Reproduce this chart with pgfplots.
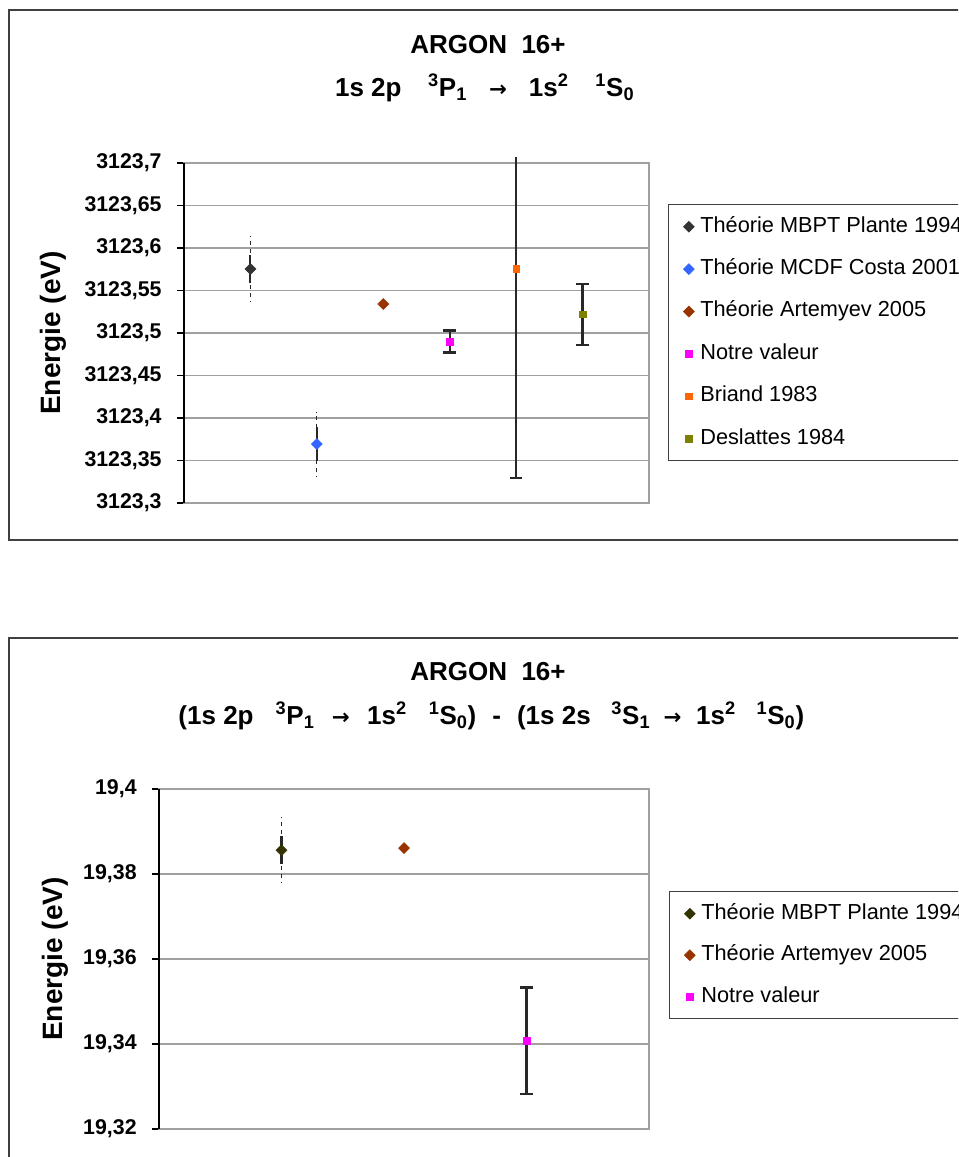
\documentclass[border=0pt]{standalone}
\usepackage{pgfplots}
\pgfplotsset{compat=1.18}
\usepackage{fontspec}
\setmainfont{Liberation Sans}
\newfontfamily\arrowfont{DejaVu Sans}
\definecolor{gridgray}{RGB}{160,160,160}
\definecolor{framec}{RGB}{64,64,64}
\definecolor{plante}{RGB}{51,51,51}
\definecolor{costa}{RGB}{51,102,255}
\definecolor{artemyev}{RGB}{153,51,0}
\definecolor{notre}{RGB}{255,0,255}
\definecolor{briand}{RGB}{255,102,0}
\definecolor{deslattes}{RGB}{128,128,0}
\definecolor{plantetwo}{RGB}{51,51,0}
\definecolor{errc}{RGB}{40,40,40}

\newcommand{\gap}[1]{\hspace*{#1}}
\newcommand{\arr}{{\arrowfont\bfseries\fontsize{16}{18}\selectfont →}}
\pgfplotsset{
  excel/.style={
    scale only axis,
    anchor=south west,
    clip=false,
    axis line style={gridgray, line width=1.1pt},
    ymajorgrids,
    grid style={gridgray, line width=1.1pt},
    xtick=\empty,
    ytick pos=left,
    tick align=outside,
    major tick length=5.25pt,
    every tick/.style={black, line width=1.1pt},
    yticklabel style={font=\bfseries\fontsize{16}{18}\selectfont, black, xshift=-8pt},
    ylabel={Energie (eV)},
    legend cell align=left,
    legend image code/.code={\draw[mark repeat=2,mark phase=2,##1] plot coordinates {(0pt,0pt)(5pt,0pt)(10pt,0pt)};},
    legend style={draw=framec, line width=1.1pt, fill=white, anchor=north west,
      font=\fontsize{16.3}{18}\selectfont, inner xsep=11pt, inner ysep=9.5pt,
      column sep=4.5pt,
      nodes={inner sep=0pt, text height=11pt, text depth=3pt, line width=0.4pt}},
  },
  diam/.style={only marks, mark=square*, mark size=2.9pt, mark options={rotate=45, fill=#1, draw=#1, line width=0.4pt}},
  sq/.style={only marks, mark=square*, mark size=2.45pt, mark options={fill=#1, draw=#1, line width=0.4pt}},
}

\begin{document}
\begin{tikzpicture}
\useasboundingbox (0pt,0pt) rectangle (718.5pt,-867.75pt);
\clip (0pt,0pt) rectangle (718.5pt,-867.75pt);
\fill[white] (0pt,0pt) rectangle (718.5pt,-867.75pt);

% ---------- top chart ----------
\draw[framec, line width=1.1pt] (6.75pt,-7.5pt) rectangle (740pt,-405pt);
\node[font=\bfseries\fontsize{19.5}{22}\selectfont] at (366pt,-33.75pt) {ARGON\ \ 16+};
\node[font=\bfseries\fontsize{19.5}{22}\selectfont] at (363.5pt,-66pt)
  {1s 2p\gap{20pt}\textsuperscript{3}P\textsubscript{1}\gap{16.5pt}\arr\gap{16.5pt}1s\textsuperscript{2}\gap{20pt}\textsuperscript{1}S\textsubscript{0}};

\begin{axis}[excel,
  at={(138pt,-377.25pt)},
  width=348.75pt, height=255pt,
  xmin=0, xmax=7,
  ymin=3123.3, ymax=3123.7,
  ytick={3123.3,3123.35,3123.4,3123.45,3123.5,3123.55,3123.6,3123.65,3123.7},
  yticklabels={{3123,3},{3123,35},{3123,4},{3123,45},{3123,5},{3123,55},{3123,6},{3123,65},{3123,7}},
  every axis y label/.style={at={(axis description cs:-0.281,0.5)}, rotate=90, anchor=center,
    font=\bfseries\fontsize{21}{24}\selectfont},
  legend style={at={(axis description cs:1.0409,0.8794)}, row sep=17.8pt},
]
% Plante 1994
\addplot[only marks, mark=none, forget plot,
  error bars/y dir=both, error bars/y explicit, error bars/error mark=none,
  error bars/error bar style={errc, line width=0.8pt, dash pattern=on 3pt off 3pt}]
  coordinates {(1,3123.5753) +- (0,0.0388)};
\addplot[diam=plante,
  error bars/y dir=both, error bars/y explicit, error bars/error mark=none,
  error bars/error bar style={errc, line width=1.6pt}]
  coordinates {(1,3123.5753) +- (0,0.017)};
\addlegendentry{Théorie MBPT Plante 1994}
% Costa 2001
\addplot[only marks, mark=none, forget plot,
  error bars/y dir=both, error bars/y explicit, error bars/error mark=none,
  error bars/error bar style={errc, line width=0.8pt, dash pattern=on 3pt off 3pt}]
  coordinates {(2,3123.3694) +- (0,0.038)};
\addplot[diam=costa,
  error bars/y dir=both, error bars/y explicit, error bars/error mark=none,
  error bars/error bar style={errc, line width=1.6pt}]
  coordinates {(2,3123.3694) +- (0,0.02)};
\addlegendentry{Théorie MCDF Costa 2001}
% Artemyev 2005
\addplot[diam=artemyev] coordinates {(3,3123.5341)};
\addlegendentry{Théorie Artemyev 2005}
% Notre valeur
\addplot[sq=notre,
  error bars/y dir=both, error bars/y explicit, error bars/error mark=-,
  error bars/error bar style={errc, line width=1.7pt},
  error bars/error mark options={rotate=90, mark size=4.75pt, line width=1.8pt, errc}]
  coordinates {(4,3123.490) +- (0,0.013)};
\addlegendentry{Notre valeur}
% Briand 1983
\addplot[only marks, mark=none, forget plot,
  error bars/y dir=plus, error bars/y explicit, error bars/error mark=none,
  error bars/error bar style={errc, line width=1.7pt}]
  coordinates {(5,3123.5753) +- (0,0.132)};
\addplot[sq=briand,
  error bars/y dir=minus, error bars/y explicit, error bars/error mark=-,
  error bars/error bar style={errc, line width=1.7pt},
  error bars/error mark options={rotate=90, mark size=4.75pt, line width=1.8pt, errc}]
  coordinates {(5,3123.5753) +- (0,0.246)};
\addlegendentry{Briand 1983}
% Deslattes 1984
\addplot[sq=deslattes,
  error bars/y dir=both, error bars/y explicit, error bars/error mark=-,
  error bars/error bar style={errc, line width=1.7pt},
  error bars/error mark options={rotate=90, mark size=4.75pt, line width=1.8pt, errc}]
  coordinates {(6,3123.522) +- (0,0.036)};
\addlegendentry{Deslattes 1984}
\draw[black, line width=1.1pt] (rel axis cs:0,0) -- (rel axis cs:0,1);
\end{axis}

% ---------- bottom chart ----------
\draw[framec, line width=1.1pt] (6.75pt,-478.5pt) rectangle (740pt,-900pt);
\node[font=\bfseries\fontsize{19.5}{22}\selectfont] at (366pt,-504pt) {ARGON\ \ 16+};
\node[font=\bfseries\fontsize{19.5}{22}\selectfont] at (368.5pt,-537pt)
  {(1s 2p\gap{16.5pt}\textsuperscript{3}P\textsubscript{1}\gap{13pt}\arr\gap{13pt}1s\textsuperscript{2}\gap{16.5pt}\textsuperscript{1}S\textsubscript{0})\gap{12pt}-\gap{12pt}(1s 2s\gap{15.5pt}\textsuperscript{3}S\textsubscript{1}\gap{10pt}\arr\gap{11pt}1s\textsuperscript{2}\gap{15.5pt}\textsuperscript{1}S\textsubscript{0})};

\begin{axis}[excel,
  at={(119.25pt,-846.75pt)},
  width=367.5pt, height=255pt,
  xmin=0, xmax=4,
  ymin=19.32, ymax=19.4,
  ytick={19.32,19.34,19.36,19.38,19.4},
  yticklabels={{19,32},{19,34},{19,36},{19,38},{19,4}},
  every axis y label/.style={at={(axis description cs:-0.212,0.5)}, rotate=90, anchor=center,
    font=\bfseries\fontsize{21}{24}\selectfont},
  legend style={at={(axis description cs:1.0408,0.7)}, row sep=17.1pt},
]
\addplot[only marks, mark=none, forget plot,
  error bars/y dir=both, error bars/y explicit, error bars/error mark=none,
  error bars/error bar style={errc, line width=0.8pt, dash pattern=on 3pt off 3pt}]
  coordinates {(1,19.3856) +- (0,0.0078)};
\addplot[diam=plantetwo,
  error bars/y dir=both, error bars/y explicit, error bars/error mark=none,
  error bars/error bar style={errc, line width=1.6pt}]
  coordinates {(1,19.3856) +- (0,0.0033)};
\addlegendentry{Théorie MBPT Plante 1994}
\addplot[diam=artemyev] coordinates {(2,19.3861)};
\addlegendentry{Théorie Artemyev 2005}
\addplot[sq=notre,
  error bars/y dir=both, error bars/y explicit, error bars/error mark=-,
  error bars/error bar style={errc, line width=1.7pt},
  error bars/error mark options={rotate=90, mark size=4.75pt, line width=1.8pt, errc}]
  coordinates {(3,19.3408) +- (0,0.0125)};
\addlegendentry{Notre valeur}
\draw[black, line width=1.1pt] (rel axis cs:0,0) -- (rel axis cs:0,1);
\end{axis}
\end{tikzpicture}
\end{document}
